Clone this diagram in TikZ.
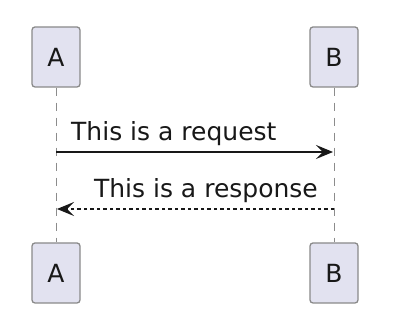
\documentclass[tikz,border=0pt]{standalone}
\usepackage{fontspec}
\setmainfont{DejaVu Sans}
\usetikzlibrary{arrows.meta}
\definecolor{partfill}{HTML}{E2E2F0}
\definecolor{partline}{HTML}{8A8A8A}
\definecolor{ink}{HTML}{181818}
\begin{document}
\begin{tikzpicture}[x=1pt,y=-1pt,
  part/.style={draw=partline, fill=partfill, line width=1.3pt, rounded corners=3pt,
    minimum width=48pt, minimum height=60pt, inner sep=0pt, font=\fontsize{25}{28}\selectfont, text=ink},
  lifeline/.style={draw=gray!90, line width=1pt, dash pattern=on 8pt off 7pt},
  msg/.style={draw=ink, line width=1.3pt, -{Stealth[length=17pt,width=14pt,inset=7pt]}},
  reply/.style={draw=ink, line width=1.2pt, dash pattern=on 3.5pt off 3pt, -{Stealth[length=17pt,width=14pt,inset=7pt]}},
  lbl/.style={inner sep=0pt, font=\fontsize{25}{28}\selectfont, text=ink}]
\useasboundingbox (0,0) rectangle (400,336);
\fill[white] (0,0) rectangle (400,336);
\node[part] (A1) at (56,57) {A};
\node[part] (B1) at (334,57) {B};
\node[part] (A2) at (56,273) {A};
\node[part] (B2) at (334,273) {B};
\draw[lifeline] (A1.south) -- (A2.north);
\draw[lifeline] (B1.south) -- (B2.north);
\coordinate (ra) at (56,152);
\coordinate (rb) at (333,152);
\coordinate (sa) at (57,209);
\coordinate (sb) at (334,209);
\draw[msg] (ra) -- (rb);
\draw[reply] (sb) -- (sa);
\node[lbl, anchor=base west] (t1) at (71,141) {This is a request};
\node[lbl, anchor=base east] (t2) at (318,198) {This is a response};
\end{tikzpicture}
\end{document}
